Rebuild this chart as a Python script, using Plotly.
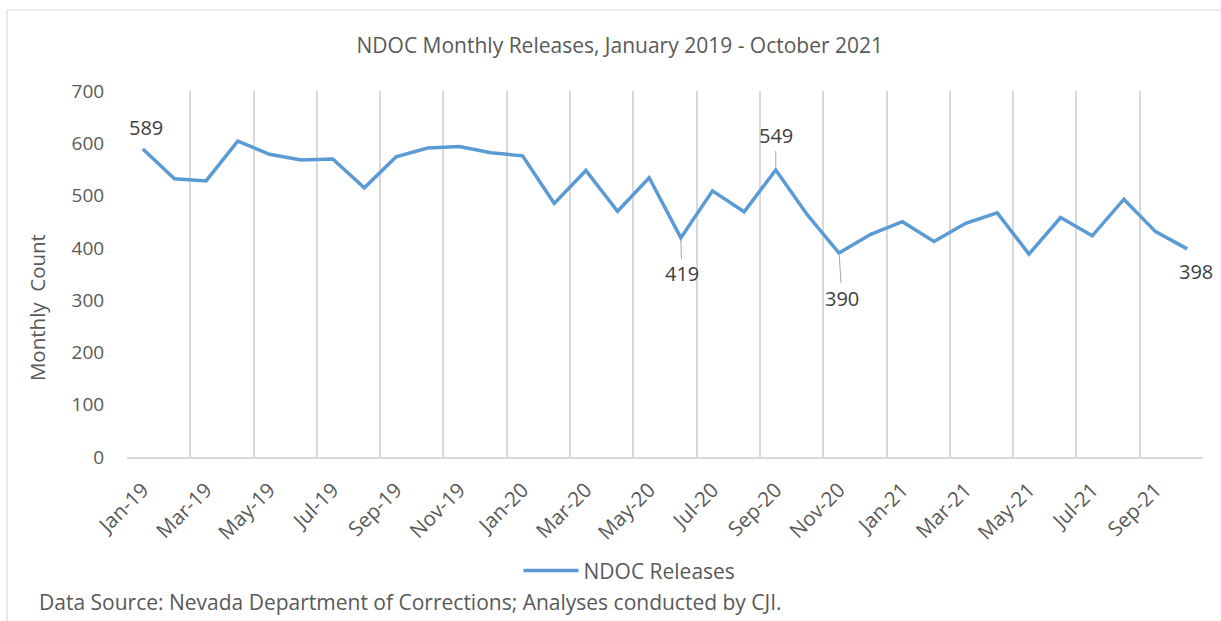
import plotly.graph_objects as go

# Monthly NDOC releases, Jan 2019 - Oct 2021
months = [
    "Jan-19", "Feb-19", "Mar-19", "Apr-19", "May-19", "Jun-19", "Jul-19", "Aug-19",
    "Sep-19", "Oct-19", "Nov-19", "Dec-19", "Jan-20", "Feb-20", "Mar-20", "Apr-20",
    "May-20", "Jun-20", "Jul-20", "Aug-20", "Sep-20", "Oct-20", "Nov-20", "Dec-20",
    "Jan-21", "Feb-21", "Mar-21", "Apr-21", "May-21", "Jun-21", "Jul-21", "Aug-21",
    "Sep-21", "Oct-21",
]
releases = [
    589, 532, 528, 604, 579, 568, 570, 515,
    574, 591, 594, 582, 576, 485, 548, 470,
    534, 419, 509, 469, 549, 463, 390, 426,
    450, 412, 447, 467, 388, 458, 423, 493,
    431, 398,
]
# which points carry a value label, and the label offset (px) from the point
labelled = {0: (3, -22, False), 17: (1, 36, True), 20: (0, -34, True),
            22: (3, 45, True), 33: (9, 23, False)}

FONT = "Open Sans"
GREY = "#595959"
GRID = "#D9D9D9"

x = list(range(len(months)))

fig = go.Figure()
fig.add_trace(go.Scatter(
    x=x, y=releases, mode="lines", name="NDOC Releases",
    line=dict(color="#5B9BD5", width=3.5),
))

for i, (dx, dy, arrow) in labelled.items():
    if arrow:
        fig.add_annotation(x=x[i], y=releases[i], text=str(releases[i]),
                           showarrow=True, arrowhead=0, arrowwidth=1,
                           arrowcolor="#A6A6A6", ax=dx, ay=dy, standoff=2,
                           font=dict(size=20, color="#404040", family=FONT))
    else:
        fig.add_annotation(x=x[i], y=releases[i], text=str(releases[i]),
                           showarrow=False, xshift=dx, yshift=-dy,
                           font=dict(size=20, color="#404040", family=FONT))

# y axis title and source note
fig.add_annotation(x=-0.0836, y=0.407, xref="paper", yref="paper",
                   xanchor="center", yanchor="middle",
                   text="Monthly  Count", textangle=-90, showarrow=False,
                   font=dict(size=20.5, color=GREY, family=FONT))
fig.add_annotation(x=-0.0836, y=-0.396, xref="paper", yref="paper",
                   xanchor="left", yanchor="middle",
                   text="Data Source: Nevada Department of Corrections; Analyses conducted by CJI.",
                   showarrow=False, font=dict(size=21, color=GREY, family=FONT))

# chart-area border (runs off the right/bottom edge in the reference)
fig.add_shape(type="rect", xref="paper", yref="paper",
              x0=-0.1115, y0=1.2213, x1=1.2, y1=-0.6,
              line=dict(color=GRID, width=1.2), layer="below")

fig.update_layout(
    width=1221, height=621,
    margin=dict(l=127, r=18, t=91, b=164),
    paper_bgcolor="white", plot_bgcolor="white",
    font=dict(family=FONT, color=GREY),
    title=dict(text="NDOC Monthly Releases, January 2019 - October 2021",
               x=0.458, xref="paper", xanchor="center",
               y=1 - 46 / 621, yanchor="middle",
               font=dict(size=21, color=GREY, family=FONT)),
    showlegend=True,
    legend=dict(orientation="h", x=0.467, xanchor="center",
                y=-0.311, yanchor="middle", itemwidth=55,
                font=dict(size=21, color=GREY, family=FONT)),
    xaxis=dict(
        range=[-0.5, len(months) - 0.5],
        tickmode="array", tickvals=x[::2], ticktext=months[::2],
        tickangle=-45, tickfont=dict(size=20.5, color=GREY),
        ticks="outside", ticklen=11, tickcolor="rgba(0,0,0,0)",
        showgrid=False, zeroline=False,
        showline=True, linecolor=GRID, linewidth=1.5,
        minor=dict(tickmode="linear", tick0=-0.5, dtick=2, showgrid=True,
                   gridcolor=GRID, gridwidth=1.5, ticks=""),
    ),
    yaxis=dict(
        range=[0, 700], dtick=100, showgrid=False, zeroline=False,
        showline=False, tickfont=dict(size=19, color=GREY),
        ticks="outside", ticklen=18, tickcolor="rgba(0,0,0,0)",
    ),
)

# drop the default page margin so the figure sits at the window's top-left
fig.write_html("out.html", config={"displayModeBar": False},
               post_script="document.body.style.margin='0';document.body.style.overflow='hidden';")
